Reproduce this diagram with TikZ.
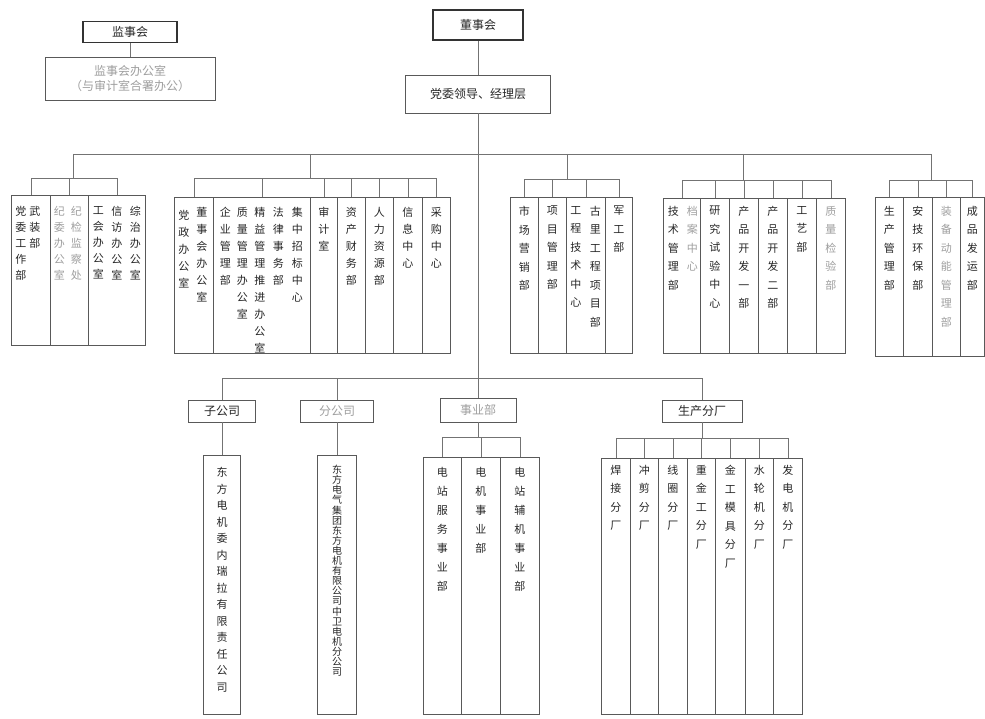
\documentclass[tikz,border=0pt]{standalone}
\usepackage{fontspec}
\newfontfamily\cjk{Noto Sans CJK SC}
\makeatletter
\newcommand\vchars[1]{\@tfor\vchar:=#1\do{\vchar\par}}
\makeatother

\begin{document}
\begin{tikzpicture}[x=1pt,y=-1pt,
  link/.style={draw=black!55, line width=0.8pt},
  unit/.style={draw=black!65, line width=0.9pt, inner sep=0pt},
  head/.style={draw=black!80, line width=1.6pt, inner sep=0pt, text=black!85, font=\cjk\fontsize{12}{15}\selectfont},
  hbox/.style={unit, text=black!85, font=\cjk\fontsize{12}{15}\selectfont},
  col/.style={unit, anchor=north west},
  vlab/.style={anchor=north, inner sep=0pt, text width=13pt, align=center, text=black!85, font=\cjk\fontsize{11}{17}\selectfont},
  tight/.style={font=\cjk\fontsize{11}{16}\selectfont},
  loose/.style={font=\cjk\fontsize{11}{18.5}\selectfont},
  dense/.style={font=\cjk\fontsize{10}{10.1}\selectfont},
  faded/.style={text=black!38}]

  \useasboundingbox (0,0) rectangle (985,719);

  % Supervisory board
  \node[head, minimum width=94, minimum height=21] (jsh) at (130,32) {监事会};
  \node[hbox, faded, minimum width=170, minimum height=43, align=center] (jsbgs) at (130,78.5) {监事会办公室\\（与审计室合署办公）};
  \draw[link] (jsh) -- (jsbgs);

  % Board of directors and leadership
  \node[head, minimum width=90, minimum height=30] (dsh) at (478,25) {董事会};
  \node[hbox, minimum width=145, minimum height=38] (ldc) at (478,94) {党委领导、经理层};
  \coordinate (hub) at (478,154);
  \coordinate (lowhub) at (478,378);
  \draw[link] (dsh) -- (ldc);
  \draw[link] (ldc) -- (lowhub);

  % Drops to the five functional groups
  \coordinate (g1) at (73,178);
  \coordinate (g2) at (310,178);
  \coordinate (g3) at (567,179);
  \coordinate (g4) at (743,180);
  \coordinate (g5) at (931,180);
  \draw[link] (g1 |- hub) -- (g5 |- hub);
  \foreach \g in {g1,g2,g3,g4,g5} \draw[link] (\g |- hub) -- (\g);

  % Group 1: party and discipline offices
  \node[col, minimum width=39, minimum height=150] (dw) at (11,195) {};
  \node[col, minimum width=38, minimum height=150] (jw) at (50,195) {};
  \node[col, minimum width=57, minimum height=150] (gh) at (88,195) {};
  \node[vlab, tight] (dw-a) at ([xshift=-10pt,yshift=-11pt]dw.north) {\vchars{党委工作部}};
  \node[vlab, tight] (dw-b) at ([xshift=4pt,yshift=-11pt]dw.north) {\vchars{武装部}};
  \node[vlab, tight, faded] (jw-a) at ([xshift=-10pt,yshift=-11pt]jw.north) {\vchars{纪委办公室}};
  \node[vlab, tight, faded] (jw-b) at ([xshift=7pt,yshift=-11pt]jw.north) {\vchars{纪检监察处}};
  \node[vlab, tight] (gh-a) at ([xshift=-18.5pt,yshift=-11pt]gh.north) {\vchars{工会办公室}};
  \node[vlab, tight] (gh-b) at ([yshift=-11pt]gh.north) {\vchars{信访办公室}};
  \node[vlab, tight] (gh-c) at ([xshift=18.5pt,yshift=-11pt]gh.north) {\vchars{综治办公室}};
  \foreach \b in {dw,jw,gh} \draw[link] (\b.north) |- (g1);

  % Group 2: management offices
  \node[col, minimum width=39, minimum height=156] (dz) at (174,197) {};
  \node[col, minimum width=97, minimum height=156] (qg) at (213,197) {};
  \node[col, minimum width=27, minimum height=156] (sj) at (310,197) {};
  \node[col, minimum width=28, minimum height=156] (zc) at (337,197) {};
  \node[col, minimum width=28, minimum height=156] (rl) at (365,197) {};
  \node[col, minimum width=29, minimum height=156] (xx) at (393,197) {};
  \node[col, minimum width=28, minimum height=156] (cg) at (422,197) {};
  \node[vlab] (dz-a) at ([xshift=-10pt,yshift=-13pt]dz.north) {\vchars{党政办公室}};
  \node[vlab] (dz-b) at ([xshift=8pt,yshift=-10pt]dz.north) {\vchars{董事会办公室}};
  \node[vlab] (qg-a) at ([xshift=-36.5pt,yshift=-10pt]qg.north) {\vchars{企业管理部}};
  \node[vlab] (qg-b) at ([xshift=-19.5pt,yshift=-10pt]qg.north) {\vchars{质量管理办公室}};
  \node[vlab] (qg-c) at ([xshift=-2pt,yshift=-10pt]qg.north) {\vchars{精益管理推进办公室}};
  \node[vlab] (qg-d) at ([xshift=16.5pt,yshift=-10pt]qg.north) {\vchars{法律事务部}};
  \node[vlab] (qg-e) at ([xshift=35.5pt,yshift=-10pt]qg.north) {\vchars{集中招标中心}};
  \node[vlab] (sj-t) at ([yshift=-10pt]sj.north) {\vchars{审计室}};
  \node[vlab] (zc-t) at ([yshift=-10pt]zc.north) {\vchars{资产财务部}};
  \node[vlab] (rl-t) at ([yshift=-10pt]rl.north) {\vchars{人力资源部}};
  \node[vlab] (xx-t) at ([yshift=-10pt]xx.north) {\vchars{信息中心}};
  \node[vlab] (cg-t) at ([yshift=-10pt]cg.north) {\vchars{采购中心}};
  \foreach \b in {dz,qg,sj,zc,rl,xx,cg} \draw[link] (\b.north) |- (g2);

  % Group 3: market and projects
  \node[col, minimum width=28, minimum height=156] (sc) at (510,197) {};
  \node[col, minimum width=28, minimum height=156] (xm) at (538,197) {};
  \node[col, minimum width=39, minimum height=156] (gc) at (566,197) {};
  \node[col, minimum width=27, minimum height=156] (jg) at (605,197) {};
  \node[vlab, loose] (sc-t) at ([yshift=-9pt]sc.north) {\vchars{市场营销部}};
  \node[vlab, loose] (xm-t) at ([yshift=-9pt]xm.north) {\vchars{项目管理部}};
  \node[vlab, loose] (gc-a) at ([xshift=-10pt,yshift=-9pt]gc.north) {\vchars{工程技术中心}};
  \node[vlab, loose] (gc-b) at ([xshift=9.5pt,yshift=-9pt]gc.north) {\vchars{古里工程项目部}};
  \node[vlab, loose] (jg-t) at ([yshift=-9pt]jg.north) {\vchars{军工部}};
  \foreach \b in {sc,xm,gc,jg} \draw[link] (\b.north) |- (g3);

  % Group 4: technology and quality
  \node[col, minimum width=37, minimum height=155] (js) at (663,198) {};
  \node[col, minimum width=29, minimum height=155] (yj) at (700,198) {};
  \node[col, minimum width=29, minimum height=155] (kfa) at (729,198) {};
  \node[col, minimum width=29, minimum height=155] (kfb) at (758,198) {};
  \node[col, minimum width=29, minimum height=155] (gy) at (787,198) {};
  \node[col, minimum width=29, minimum height=155] (zj) at (816,198) {};
  \node[vlab, loose] (js-a) at ([xshift=-8.5pt,yshift=-8pt]js.north) {\vchars{技术管理部}};
  \node[vlab, loose, faded] (js-b) at ([xshift=10.5pt,yshift=-8pt]js.north) {\vchars{档案中心}};
  \node[vlab, loose] (yj-t) at ([yshift=-8pt]yj.north) {\vchars{研究试验中心}};
  \node[vlab, loose] (kfa-t) at ([yshift=-8pt]kfa.north) {\vchars{产品开发一部}};
  \node[vlab, loose] (kfb-t) at ([yshift=-8pt]kfb.north) {\vchars{产品开发二部}};
  \node[vlab, loose] (gy-t) at ([yshift=-8pt]gy.north) {\vchars{工艺部}};
  \node[vlab, loose, faded] (zj-t) at ([yshift=-8pt]zj.north) {\vchars{质量检验部}};
  \foreach \b in {js,yj,kfa,kfb,gy,zj} \draw[link] (\b.north) |- (g4);

  % Group 5: production support
  \node[col, minimum width=28, minimum height=159] (scgl) at (875,197) {};
  \node[col, minimum width=29, minimum height=159] (ajhb) at (903,197) {};
  \node[col, minimum width=28, minimum height=159] (zbdn) at (932,197) {};
  \node[col, minimum width=24, minimum height=159] (cpfy) at (960,197) {};
  \node[vlab, loose] (scgl-t) at ([yshift=-9pt]scgl.north) {\vchars{生产管理部}};
  \node[vlab, loose] (ajhb-t) at ([yshift=-9pt]ajhb.north) {\vchars{安技环保部}};
  \node[vlab, loose, faded] (zbdn-t) at ([yshift=-9pt]zbdn.north) {\vchars{装备动能管理部}};
  \node[vlab, loose] (cpfy-t) at ([yshift=-9pt]cpfy.north) {\vchars{成品发运部}};
  \foreach \b in {scgl,ajhb,zbdn,cpfy} \draw[link] (\b.north) |- (g5);

  % Lower branch: subsidiaries, branches, business units, plants
  \node[hbox, minimum width=67, minimum height=22] (zgs) at (222,411) {子公司};
  \node[hbox, faded, minimum width=73, minimum height=22] (fgs) at (337,411) {分公司};
  \node[hbox, faded, minimum width=76, minimum height=24] (syb) at (478,410) {事业部};
  \node[hbox, minimum width=80, minimum height=22] (sccf) at (702,411) {生产分厂};
  \foreach \b in {zgs,fgs,syb,sccf} \draw[link] (\b.north) |- (lowhub);

  % Subsidiary and branch company
  \node[unit, anchor=north, minimum width=37, minimum height=259] (wnrl) at (222,455) {};
  \node[unit, anchor=north, minimum width=39, minimum height=259] (zwfg) at (337,455) {};
  \node[vlab, font=\cjk\fontsize{11}{16.5}\selectfont] (wnrl-t) at ([yshift=-12pt]wnrl.north) {\vchars{东方电机委内瑞拉有限责任公司}};
  \node[vlab, dense] (zwfg-t) at ([yshift=-10pt]zwfg.north) {\vchars{东方电气集团东方电机有限公司中卫电机分公司}};
  \draw[link] (zgs) -- (wnrl);
  \draw[link] (fgs) -- (zwfg);

  % Business units
  \coordinate (sy) at (478,437);
  \node[col, minimum width=38, minimum height=257] (dzfw) at (423,457) {};
  \node[col, minimum width=39, minimum height=257] (djsy) at (461,457) {};
  \node[col, minimum width=39, minimum height=257] (dzfj) at (500,457) {};
  \node[vlab, font=\cjk\fontsize{11}{19}\selectfont] (dzfw-t) at ([yshift=-10pt]dzfw.north) {\vchars{电站服务事业部}};
  \node[vlab, font=\cjk\fontsize{11}{19}\selectfont] (djsy-t) at ([yshift=-10pt]djsy.north) {\vchars{电机事业部}};
  \node[vlab, font=\cjk\fontsize{11}{19}\selectfont] (dzfj-t) at ([yshift=-10pt]dzfj.north) {\vchars{电站辅机事业部}};
  \draw[link] (syb) -- (sy);
  \foreach \b in {dzfw,djsy,dzfj} \draw[link] (\b.north) |- (sy);

  % Production plants
  \coordinate (cf) at (702,438);
  \node[col, minimum width=29, minimum height=256] (hj) at (601,458) {};
  \node[col, minimum width=28, minimum height=256] (cj) at (630,458) {};
  \node[col, minimum width=29, minimum height=256] (xq) at (658,458) {};
  \node[col, minimum width=28, minimum height=256] (zjg) at (687,458) {};
  \node[col, minimum width=30, minimum height=256] (mj) at (715,458) {};
  \node[col, minimum width=28, minimum height=256] (sl) at (745,458) {};
  \node[col, minimum width=29, minimum height=256] (fd) at (773,458) {};
  \node[vlab, loose] (hj-t) at ([yshift=-7pt]hj.north) {\vchars{焊接分厂}};
  \node[vlab, loose] (cj-t) at ([yshift=-7pt]cj.north) {\vchars{冲剪分厂}};
  \node[vlab, loose] (xq-t) at ([yshift=-7pt]xq.north) {\vchars{线圈分厂}};
  \node[vlab, loose] (zjg-t) at ([yshift=-7pt]zjg.north) {\vchars{重金工分厂}};
  \node[vlab, loose] (mj-t) at ([yshift=-7pt]mj.north) {\vchars{金工模具分厂}};
  \node[vlab, loose] (sl-t) at ([yshift=-7pt]sl.north) {\vchars{水轮机分厂}};
  \node[vlab, loose] (fd-t) at ([yshift=-7pt]fd.north) {\vchars{发电机分厂}};
  \draw[link] (sccf) -- (cf);
  \foreach \b in {hj,cj,xq,zjg,mj,sl,fd} \draw[link] (\b.north) |- (cf);
\end{tikzpicture}
\end{document}
